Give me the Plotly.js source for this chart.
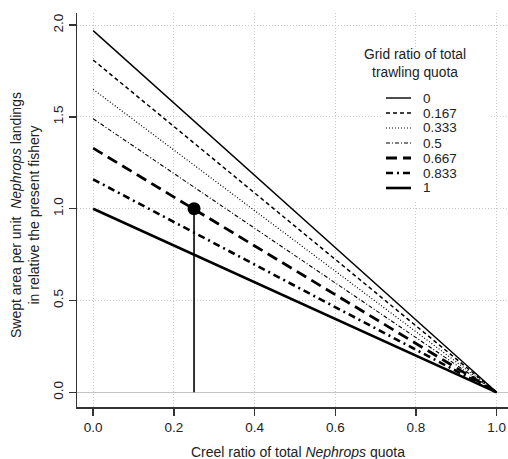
<!DOCTYPE html>
<html>
<head>
<meta charset="utf-8">
<script src="https://cdn.plot.ly/plotly-3.0.1.min.js"></script>
<style>html,body{margin:0;padding:0;background:#fff;}#chart{width:508px;height:459px;}</style>
</head>
<body>
<div id="chart"></div>
<script>
// ---- data ----
var creelRatio = [0, 1];
var gridRatioLabels = ["0", "0.167", "0.333", "0.5", "0.667", "0.833", "1"];
var sweptStart = [1.97, 1.81, 1.65, 1.49, 1.33, 1.16, 1.00];
var sweptEnd = [0, 0, 0, 0, 0, 0, 0];
var presentPointX = [0.25];
var presentPointY = [1.0];
var dropX = [0.25, 0.25];
var dropY = [0, 1.0];
var xTicks = [0, 0.2, 0.4, 0.6, 0.8, 1.0];
var yTicks = [0, 0.5, 1.0, 1.5, 2.0];

// ---- styles ----
var lineStyles = [
  {dash: "solid", width: 1.4},
  {dash: "4px,3px", width: 1.5},
  {dash: "1px,2px", width: 1.2},
  {dash: "4px,2px,1px,2px", width: 1.1},
  {dash: "11px,6px", width: 2.8},
  {dash: "7px,4px,2px,4px", width: 2.6},
  {dash: "solid", width: 2.6}
];

var FONT = "Liberation Sans, Arial, Helvetica, sans-serif";
var ML = 77, MR = 0, MT = 13, MB = 52, W = 508, H = 459;
var PW = W - ML - MR, PH = H - MT - MB;
function px2x(p) { return (p - ML) / PW; }
function px2y(p) { return 1 - (p - MT) / PH; }

var traces = [];
for (var i = 0; i < gridRatioLabels.length; i++) {
  traces.push({
    type: "scatter", mode: "lines",
    x: creelRatio, y: [sweptStart[i], sweptEnd[i]],
    name: gridRatioLabels[i],
    line: {color: "#000", width: lineStyles[i].width, dash: lineStyles[i].dash},
    showlegend: false, hoverinfo: "skip"
  });
}
traces.push({
  type: "scatter", mode: "lines", x: dropX, y: dropY,
  line: {color: "#000", width: 1.6}, showlegend: false, hoverinfo: "skip"
});
traces.push({
  type: "scatter", mode: "markers", x: presentPointX, y: presentPointY,
  marker: {color: "#000", size: 13}, showlegend: false, hoverinfo: "skip"
});

// ---- custom legend (drawn from the label and style arrays) ----
var shapes = [{
  type: "rect", xref: "paper", yref: "paper", layer: "above",
  x0: px2x(383), x1: px2x(490), y0: px2y(48), y1: px2y(200),
  fillcolor: "#fff", line: {width: 0}
}];
var annotations = [{
  xref: "paper", yref: "paper", x: px2x(415), y: px2y(63.5),
  xanchor: "center", yanchor: "middle", align: "center", showarrow: false,
  text: "Grid ratio of total<br>trawling quota",
  font: {family: FONT, size: 13.8, color: "#222"}
}];
for (var j = 0; j < gridRatioLabels.length; j++) {
  var rowY = 98 + 15 * j;
  shapes.push({
    type: "line", xref: "paper", yref: "paper", layer: "above",
    x0: px2x(386), x1: px2x(411), y0: px2y(rowY), y1: px2y(rowY),
    line: {color: "#000", width: lineStyles[j].width, dash: lineStyles[j].dash}
  });
  annotations.push({
    xref: "paper", yref: "paper", x: px2x(421), y: px2y(rowY),
    xanchor: "left", yanchor: "middle", showarrow: false,
    text: gridRatioLabels[j],
    font: {family: FONT, size: 13.5, color: "#222"}
  });
}
// axis titles
annotations.push({
  xref: "paper", yref: "paper", x: px2x(298), y: 0, yshift: -(451.5 - (H - MB)),
  xanchor: "center", yanchor: "middle", showarrow: false,
  text: "Creel ratio of total <i>Nephrops</i> quota",
  font: {family: FONT, size: 14, color: "#222"}
});
annotations.push({
  xref: "paper", yref: "paper", x: 0, xshift: 25 - ML, y: px2y(215),
  xanchor: "center", yanchor: "middle", showarrow: false, textangle: -90,
  text: "Swept area per unit  <i>Nephrops</i> landings<br>in relative the present fishery",
  font: {family: FONT, size: 14, color: "#222"}
});

var axisCommon = {
  showline: true, linecolor: "#333", linewidth: 1.5,
  ticks: "outside", ticklen: 7, tickwidth: 1.5, tickcolor: "#333",
  showgrid: true, gridcolor: "#c8c8c8", gridwidth: 1, griddash: "1px,2px",
  tickfont: {family: FONT, size: 13.5, color: "#222"},
  tickformat: ".1f", automargin: false, mirror: false
};

var layout = {
  width: W, height: H,
  margin: {l: ML, r: MR, t: MT, b: MB, pad: 0},
  paper_bgcolor: "#fff", plot_bgcolor: "#fff",
  showlegend: false,
  xaxis: Object.assign({}, axisCommon, {
    range: [-0.04, 1.028], tickmode: "array", tickvals: xTicks,
    zeroline: false
  }),
  yaxis: Object.assign({}, axisCommon, {
    range: [-0.08, 2.066], tickmode: "array", tickvals: yTicks,
    tickangle: -90, zeroline: true, zerolinecolor: "#c4c4c4", zerolinewidth: 1.5
  }),
  shapes: shapes,
  annotations: annotations
};

Plotly.newPlot("chart", traces, layout, {displayModeBar: false, staticPlot: true});
</script>
</body>
</html>
